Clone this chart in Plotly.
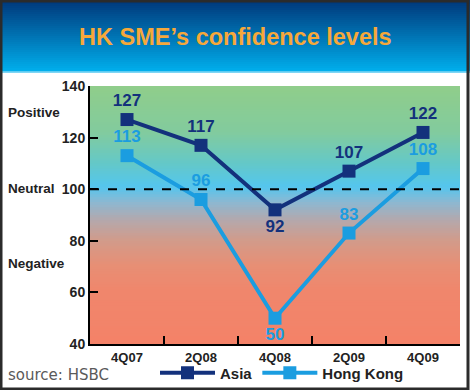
import plotly.graph_objects as go

# ---- data ----
quarters = ["4Q07", "2Q08", "4Q08", "2Q09", "4Q09"]
asia = [127, 117, 92, 107, 122]
hong_kong = [113, 96, 50, 83, 108]
asia_textpos = ["top center", "top center", "bottom center", "top center", "top center"]
hk_textpos = ["top center", "top center", "bottom center", "top center", "top center"]
y_ticks = [40, 60, 80, 100, 120, 140]
zone_labels = ["Positive", "Neutral", "Negative"]
zone_label_px = [113, 188, 263]

W, H = 470, 390
L, R, T, B = 90, 10, 86, 46
PW, PH = W - L - R, H - T - B


def px(x):
    return (x - L) / PW


def py(y):
    return (H - B - y) / PH


def lerp(c1, c2, t):
    return tuple(round(a + (b - a) * t) for a, b in zip(c1, c2))


def grad(stops, v):
    for (v0, c0), (v1, c1) in zip(stops, stops[1:]):
        if v0 <= v <= v1:
            return lerp(c0, c1, (v - v0) / (v1 - v0) if v1 != v0 else 0)
    return stops[-1][1]


ASIA_C = "#13317c"
HK_C = "#1b9de0"
FONT = "Liberation Sans, Arial, sans-serif"

fig = go.Figure()
fig.add_trace(go.Scatter(
    x=quarters, y=asia, name="Asia", mode="lines+markers+text",
    line=dict(color=ASIA_C, width=4),
    marker=dict(symbol="square", size=13, color=ASIA_C),
    text=[str(v) for v in asia], textposition=asia_textpos,
    textfont=dict(family=FONT, size=17, color=ASIA_C, weight="bold"),
))
fig.add_trace(go.Scatter(
    x=quarters, y=hong_kong, name="Hong Kong", mode="lines+markers+text",
    line=dict(color=HK_C, width=4),
    marker=dict(symbol="square", size=13, color=HK_C),
    text=[str(v) for v in hong_kong], textposition=hk_textpos,
    textfont=dict(family=FONT, size=17, color=HK_C, weight="bold"),
))

shapes = []
# plot-area gradient background
bg_stops = [
    (40, (244, 130, 104)), (60, (240, 134, 108)), (70, (232, 142, 116)),
    (80, (210, 155, 138)), (88, (180, 168, 172)), (95, (140, 184, 210)),
    (101, (84, 198, 238)), (110, (100, 200, 200)), (122, (130, 203, 158)),
    (140, (144, 205, 138)),
]
step = 1.0
v = 40.0
while v < 140:
    c = grad(bg_stops, v + step / 2)
    shapes.append(dict(type="rect", xref="paper", yref="y", x0=0, x1=1,
                       y0=v, y1=v + step + 0.3, layer="below",
                       fillcolor="rgb(%d,%d,%d)" % c, line=dict(width=0)))
    v += step

# title banner gradient
top_c, bot_c = (0, 56, 122), (0, 174, 236)
n = 36
for i in range(n):
    c = lerp(top_c, bot_c, i / (n - 1))
    y0 = i * 72 / n
    shapes.append(dict(type="rect", xref="paper", yref="paper",
                       x0=px(0), x1=px(W), y0=py(y0 + 72 / n + 0.5), y1=py(y0),
                       fillcolor="rgb(%d,%d,%d)" % c, line=dict(width=0), layer="below"))
shapes.append(dict(type="line", xref="paper", yref="paper", x0=px(0), x1=px(W),
                   y0=py(72), y1=py(72), line=dict(color="#7fd6f5", width=1.5)))
# neutral dashed line
shapes.append(dict(type="line", xref="paper", yref="y", x0=0, x1=1, y0=100, y1=100,
                   line=dict(color="black", width=2, dash="dash"), layer="above"))
# outer border
shapes.append(dict(type="rect", xref="paper", yref="paper",
                   x0=px(1), x1=px(W - 2), y0=py(H - 1), y1=py(1),
                   line=dict(color="#2b2b2b", width=3), layer="above"))

annotations = [
    dict(text="HK SME\u2019s confidence levels", xref="paper", yref="paper",
         x=px(W / 2), y=py(37), showarrow=False, xanchor="center", yanchor="middle",
         font=dict(family=FONT, size=23.5, color="#f6a83a", weight="bold")),
    dict(text="source: HSBC", xref="paper", yref="paper", x=px(6), y=py(375),
         showarrow=False, xanchor="left", yanchor="middle",
         font=dict(family="DejaVu Sans, sans-serif", size=15, color="#5a5a5a")),
]
for lab, ypx in zip(zone_labels, zone_label_px):
    annotations.append(dict(text=lab, xref="paper", yref="paper", x=px(6), y=py(ypx),
                            showarrow=False, xanchor="left", yanchor="middle",
                            font=dict(family=FONT, size=13.5, color="#222222", weight="bold")))

fig.update_layout(
    width=W, height=H, margin=dict(l=L, r=R, t=T, b=B, pad=0, autoexpand=False),
    paper_bgcolor="white", plot_bgcolor="white",
    showlegend=True,
    legend=dict(orientation="h", x=px(155), y=py(373), xanchor="left", yanchor="middle",
                itemwidth=55, font=dict(family=FONT, size=15, color="#222222", weight="bold"),
                bgcolor="rgba(0,0,0,0)", tracegroupgap=0),
    shapes=shapes, annotations=annotations,
    font=dict(family=FONT),
)
fig.update_xaxes(
    type="category", range=[-0.5, 4.5], showgrid=False, zeroline=False,
    showline=True, linecolor="black", linewidth=2,
    ticks="inside", tickson="boundaries", ticklen=8, tickwidth=2, tickcolor="black",
    tickfont=dict(family=FONT, size=13, color="#222222", weight="bold"),
)
fig.update_yaxes(
    range=[40, 140], tickvals=y_ticks, showgrid=False, zeroline=False,
    showline=True, linecolor="black", linewidth=2,
    ticks="inside", ticklen=8, tickwidth=2, tickcolor="black",
    tickfont=dict(family=FONT, size=14, color="#222222", weight="bold"),
)

fig.write_html("out.html", config={"displayModeBar": False},
               post_script="document.body.style.margin='0px';document.body.style.overflow='hidden';")
